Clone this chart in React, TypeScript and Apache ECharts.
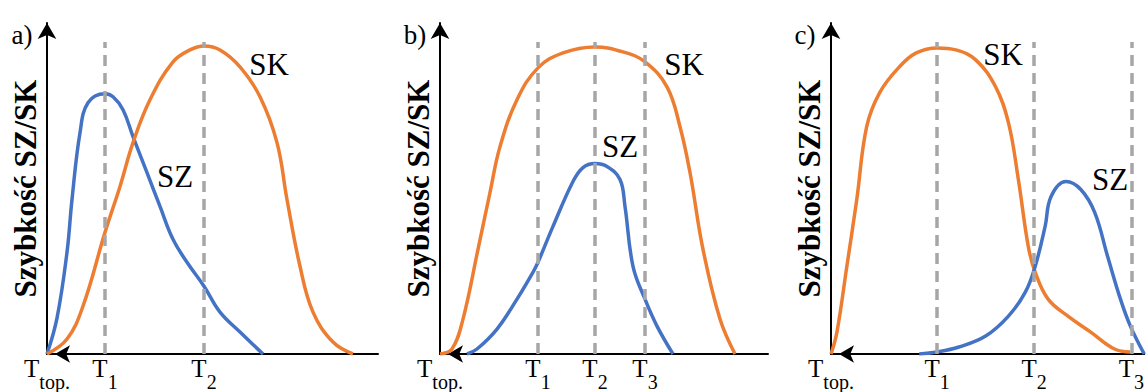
import React, { useEffect, useRef } from "react";
import * as echarts from "echarts";

// ---- data (x: time units from origin, y: speed units) ----
const aSZ: number[][] = [[0,0],[10,36],[20,102],[25,155],[33,222],[41,252],[58,261],[66,258],[76,245],[86,218],[100,182],[113,148],[126,115],[140,92],[157,68],[173,42],[193,22],[216,0]];
const aSK: number[][] = [[0,0],[20,15],[36,48],[58,122],[73,168],[86,212],[103,255],[126,293],[143,305],[157,309],[173,305],[193,288],[213,258],[230,212],[240,155],[253,88],[266,42],[286,12],[306,0]];
const bSK: number[][] = [[0,0],[12,5],[23,35],[38,105],[50,162],[60,208],[77,255],[98,287],[123,302],[155,308],[183,303],[205,293],[227,268],[240,228],[250,182],[263,105],[280,35],[295,0]];
const bSZ: number[][] = [[27,0],[37,5],[57,25],[77,55],[93,82],[98,92],[113,128],[133,173],[143,187],[155,191],[167,188],[180,175],[185,148],[193,88],[205,55],[217,28],[233,0]];
const cSK: number[][] = [[0,0],[6,22],[16,88],[26,155],[36,228],[49,262],[69,288],[86,302],[107,307],[126,305],[146,295],[166,268],[179,232],[189,175],[199,108],[206,82],[219,55],[239,38],[262,22],[286,5],[302,2]];
const cSZ: number[][] = [[89,0],[107,2],[129,7],[156,18],[179,38],[196,62],[206,88],[216,128],[222,158],[237,173],[252,165],[266,142],[279,98],[292,55],[302,28],[316,0]];

const aTicks = [0, 58, 157];
const bTicks = [0, 98, 155, 205];
const cTicks = [0, 107, 205, 303];
const aTickLabels = ["top.", "1", "2"];
const bTickLabels = ["top.", "1", "2", "3"];
const cTickLabels = ["top.", "1", "2", "3"];
const xMax = [331, 328, 316];
const yMax = 332;
const dashTop = 313;
const panelLabels = ["a)", "b)", "c)"];
const yName = "Szybkość SZ/SK";

const BLUE = "#4472c4";
const ORANGE = "#ed7d31";
const GREY = "#a6a6a6";
const SERIF = "Liberation Serif";

export default function App() {
  const ref = useRef<HTMLDivElement>(null);
  useEffect(() => {
    if (!ref.current) return;
    const chart = echarts.init(ref.current, undefined, { renderer: "svg" });
    const grids = [
      { left: 47, top: 23, width: 331, height: 332 },
      { left: 440, top: 23, width: 328, height: 332 },
      { left: 831, top: 23, width: 316, height: 332 },
    ];
    const ticks = [aTicks, bTicks, cTicks];
    const tickLabels = [aTickLabels, bTickLabels, cTickLabels];
    const xAxis = grids.map((_, i) => ({
      type: "value",
      gridIndex: i,
      min: 0,
      max: xMax[i],
      splitLine: { show: false },
      axisTick: { show: false },
      axisLine: {
        show: true,
        lineStyle: { color: "#000", width: 2 },
        symbol: ["arrow", "none"],
        symbolSize: [13, 15],
        symbolOffset: [8, 0],
      },
      axisLabel: {
        show: true,
        customValues: ticks[i],
        margin: 2,
        formatter: (v: number) => {
          const idx = ticks[i].indexOf(v);
          return "{t|T}{s|" + (idx >= 0 ? tickLabels[i][idx] : "") + "}";
        },
        rich: {
          t: { fontFamily: SERIF, fontSize: 25, color: "#000", lineHeight: 25, verticalAlign: "top" },
          s: { fontFamily: SERIF, fontSize: 20, color: "#000", lineHeight: 36, verticalAlign: "bottom" },
        },
      },
    }));
    const yAxis = grids.map((_, i) => ({
      type: "value",
      gridIndex: i,
      min: 0,
      max: yMax,
      splitLine: { show: false },
      axisTick: { show: false },
      axisLabel: { show: false },
      name: yName,
      nameLocation: "middle",
      nameGap: 6,
      nameRotate: 90,
      nameTextStyle: { fontFamily: SERIF, fontWeight: "bold", fontSize: 31, color: "#000" },
      axisLine: {
        show: true,
        lineStyle: { color: "#000", width: 2 },
        symbol: ["none", "arrow"],
        symbolSize: [14, 16],
      },
    }));
    const dash = (xs: number[]) =>
      xs.filter((x) => x > 0).map((x) => [{ coord: [x, 0] }, { coord: [x, dashTop] }]);
    const mk = (data: number[][], color: string, gi: number, ml?: number[]) => ({
      type: "line",
      xAxisIndex: gi,
      yAxisIndex: gi,
      data,
      smooth: 0.4,
      showSymbol: false,
      lineStyle: { color, width: 3.5 },
      silent: true,
      markLine: ml
        ? {
            silent: true,
            symbol: ["none", "none"],
            label: { show: false },
            lineStyle: { color: GREY, width: 3.5, type: [11, 7] },
            data: dash(ml),
          }
        : undefined,
    });
    const series = [
      mk(aSZ, BLUE, 0),
      mk(aSK, ORANGE, 0, aTicks),
      mk(bSK, ORANGE, 1),
      mk(bSZ, BLUE, 1, bTicks),
      mk(cSK, ORANGE, 2),
      mk(cSZ, BLUE, 2, cTicks),
    ];
    const txt = (text: string, x: number, y: number, size = 31) => ({
      type: "text",
      x,
      y,
      style: { text, fontFamily: SERIF, fontSize: size, fill: "#000", align: "center", verticalAlign: "middle" },
    });
    chart.setOption({
      animation: false,
      grid: grids,
      xAxis,
      yAxis,
      series,
      graphic: [
        txt(panelLabels[0], 22, 35, 27),
        txt(panelLabels[1], 415, 35, 27),
        txt(panelLabels[2], 805, 35, 27),
        txt("SK", 269, 64),
        txt("SZ", 175, 176),
        txt("SK", 684, 64),
        txt("SZ", 620, 146),
        txt("SK", 1003, 54),
        txt("SZ", 1110, 179),
      ],
    });
    return () => chart.dispose();
  }, []);
  return <div ref={ref} style={{ position: "fixed", left: 0, top: 0, width: 1147, height: 392, background: "#fff" }} />;
}
